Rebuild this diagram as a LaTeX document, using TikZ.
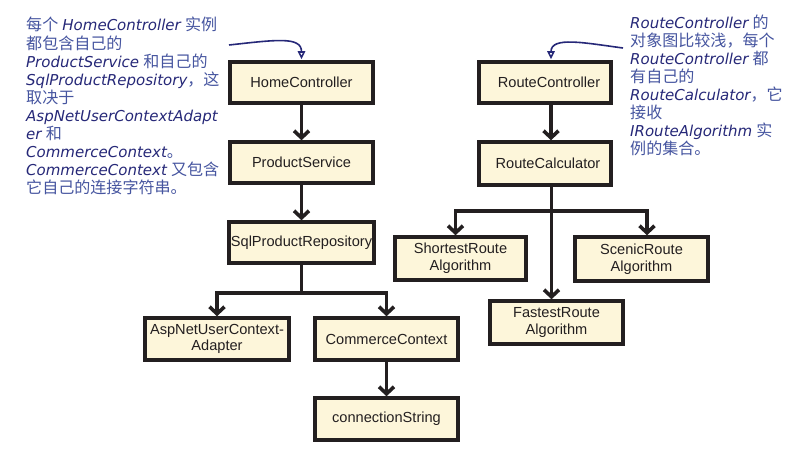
\documentclass[tikz,border=0pt]{standalone}
\usepackage{fontspec}
\setmainfont{Liberation Sans}
\newfontfamily\cjk{Noto Sans CJK SC}[Scale=1.07]
\newfontfamily\hand{DejaVu Sans}
\usetikzlibrary{arrows.meta}
\definecolor{boxfill}{RGB}{253,246,218}
\definecolor{boxline}{RGB}{35,31,32}
\definecolor{annoLat}{RGB}{38,40,120}
\definecolor{annoCJK}{RGB}{70,85,160}
\newcommand{\en}[1]{{\hand\itshape\color{annoLat}#1}}
\newcommand{\zh}[1]{{\cjk\color{annoCJK}#1}}
\tikzset{
  box/.style={draw=boxline, fill=boxfill, line width=3.5pt, inner sep=2pt,
    font=\fontsize{14.6}{16.8}\selectfont, text=boxline, align=center},
  conn/.style={draw=boxline, line width=3.6pt},
  arr/.style={conn, -{Straight Barb[length=7pt,width=15pt]}},
  annoarr/.style={draw=annoLat, line width=1.6pt, -{Triangle[open,length=8pt,width=7.5pt]}},
  annotext/.style={anchor=base west, inner sep=0pt, font=\fontsize{15}{18}\selectfont}
}
\begin{document}
\begin{tikzpicture}[x=1pt,y=-1pt]
\useasboundingbox (0,0) rectangle (797,449);
\fill[white] (0,0) rectangle (797,449);

% left column
\node[box, minimum width=143pt, minimum height=41pt] (hc) at (301.5,82.5) {HomeController};
\node[box, minimum width=143pt, minimum height=41pt] (ps) at (301.5,162.5) {ProductService};
\node[box, minimum width=143pt, minimum height=41pt] (spr) at (301.5,242.5) {SqlProductRepository};
\node[box, minimum width=144pt, minimum height=42pt] (asp) at (217,339) {AspNetUserContext-\\Adapter};
\node[box, minimum width=143pt, minimum height=42pt] (cc) at (386.5,339) {CommerceContext};
\node[box, minimum width=143pt, minimum height=42pt] (cs) at (386.5,419) {connectionString};

% right column
\node[box, minimum width=132pt, minimum height=41pt] (rc) at (545,82.5) {\hspace*{8pt}RouteController};
\node[box, minimum width=132pt, minimum height=43pt] (rcal) at (545,163.5) {\hspace*{6pt}RouteCalculator};
\node[box, minimum width=131pt, minimum height=43pt] (sr) at (460.5,258.5) {ShortestRoute\\Algorithm};
\node[box, minimum width=133pt, minimum height=44pt] (scr) at (641.5,259) {ScenicRoute\\Algorithm};
\node[box, minimum width=133pt, minimum height=43pt] (fr) at (556.5,322.5) {FastestRoute\\Algorithm};

% connectors left
\draw[arr] (hc.south) -- (ps.north);
\draw[arr] (ps.south) -- (spr.north);
\coordinate (lj) at (301.5,293);
\draw[conn] (spr.south) -- (lj);
\draw[arr] (lj) -| (asp.north);
\draw[arr] (lj) -| (cc.north);
\draw[arr] (cc.south) -- (cs.north);

% connectors right
\draw[arr] ([xshift=6pt]rc.south) -- ([xshift=6pt]rcal.north);
\coordinate (rj) at (551.5,211);
\draw[conn] ([xshift=6.5pt]rcal.south) -- (rj);
\draw[arr] (rj) -| ([xshift=-5pt]sr.north);
\draw[arr] (rj) -| ([xshift=5.5pt]scr.north);
\draw[arr] (rj) -- (rj |- fr.north);

% annotation arrows
\coordinate (la) at (229,45);
\draw[annoarr] (la) .. controls (275,40) and (301.5,36) .. ([yshift=1pt]hc.north);
\coordinate (ra) at (623,48);
\draw[annoarr] (ra) .. controls (585,43) and (551,36) .. ([xshift=6pt,yshift=1pt]rc.north);

% left annotation
\foreach \t [count=\i] in {
  {\zh{每个} \en{HomeController} \zh{实例}},
  {\zh{都包含自己的}},
  {\en{ProductService} \zh{和自己的}},
  {\en{SqlProductRepository}\zh{，这}},
  {\zh{取决于}},
  {\en{AspNetUserContextAdapt}},
  {\en{er} \zh{和}},
  {\en{CommerceContext}\zh{。}},
  {\en{CommerceContext} \zh{又包含}},
  {\zh{它自己的连接字符串。}}}
  \node[annotext] (l\i) at (26,{31+18.1*(\i-1)}) {\t};

% right annotation
\foreach \t [count=\i] in {
  {\en{RouteController} \zh{的}},
  {\zh{对象图比较浅，每个}},
  {\en{RouteController} \zh{都}},
  {\zh{有自己的}},
  {\en{RouteCalculator}\zh{，它}},
  {\zh{接收}},
  {\en{IRouteAlgorithm} \zh{实}},
  {\zh{例的集合。}}}
  \node[annotext] (r\i) at (630,{29+17.9*(\i-1)}) {\t};
\end{tikzpicture}
\end{document}
